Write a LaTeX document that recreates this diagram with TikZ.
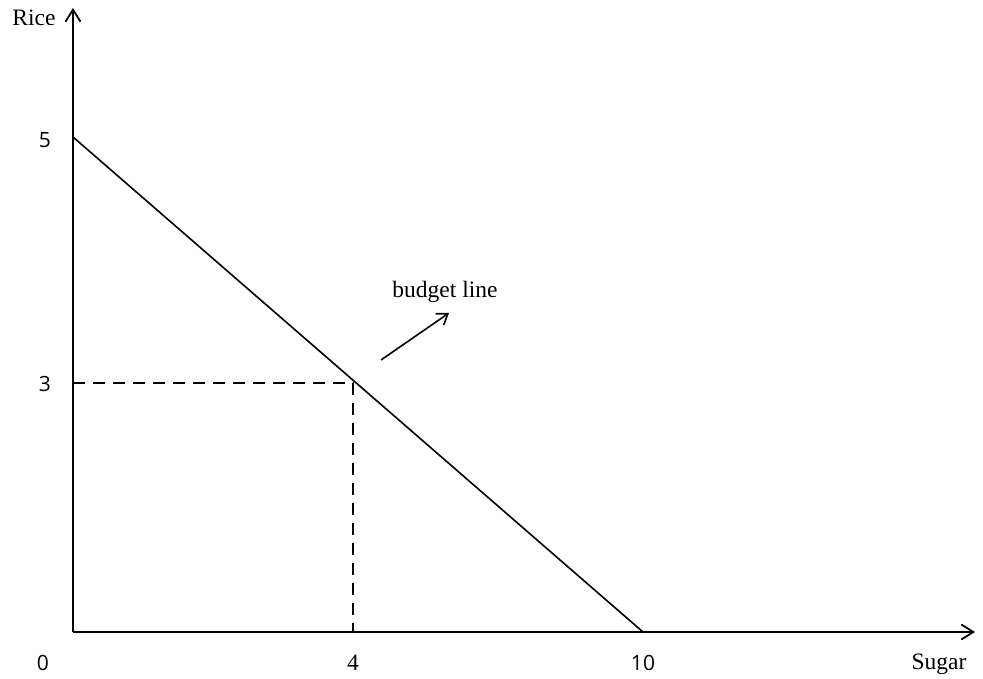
\documentclass[tikz,border=0pt]{standalone}
\usepackage{fontspec}
\setmainfont{Liberation Serif}
\newfontfamily\numfont{Open Sans}
\usetikzlibrary{arrows.meta, positioning}
\tikzset{
  % Axes and curves
  axis/.style={line width=1.9pt, -{Straight Barb[length=12pt, width=15pt, line width=1.8pt]}},
  budget/.style={line width=1.6pt},
  guide/.style={line width=1.5pt, dash pattern=on 12pt off 8pt},
  pointer/.style={line width=1.6pt, -{Straight Barb[length=10pt, width=14pt, line width=1.6pt]}},
  % Labels
  wordlabel/.style={font=\fontsize{23.5}{28}\selectfont, inner sep=0pt},
  ticklabel/.style={font=\numfont\fontsize{21}{25}\selectfont, inner sep=0pt},
}
\begin{document}
\begin{tikzpicture}[x=1pt, y=-1pt]
  \useasboundingbox (0,0) rectangle (983,679);

  % Points of the plot
  \coordinate (origin) at (73,632);
  \coordinate (ytop) at (73,8);
  \coordinate (xend) at (975,632);
  \coordinate (rice5) at (73,137);
  \coordinate (sugar10) at (643,632);
  \coordinate (rice3) at (73,383);
  \coordinate (bundle) at (353,383);
  \coordinate (sugar4) at (353,632);
  \coordinate (ptail) at (381,360);
  \coordinate (phead) at (449,313);

  % Axes
  \draw[axis] (origin) -- (ytop);
  \draw[axis] (origin) -- (xend);

  % Budget line
  \draw[budget] (rice5) -- (sugar10);

  % Dashed guides
  \draw[guide] (rice3) -- (bundle) -- (sugar4);

  % Labels
  \node[wordlabel] (ricelabel) at (34,18) {Rice};
  \node[wordlabel] (sugarlabel) at (939,664) {Sugar};
  \node[wordlabel] (budgetlabel) at (445,292) {budget line};
  \node[ticklabel] (tfive) at (45,140) {5};
  \node[ticklabel] (tthree) at (45,384) {3};
  \node[ticklabel] (tzero) at (43,663) {0};
  \node[wordlabel] (tfour) at (353,663) {4};
  \node[ticklabel] (tten) at (643,663) {10};

  % Pointer to the budget line
  \draw[pointer] (ptail) -- (phead);

\end{tikzpicture}
\end{document}
